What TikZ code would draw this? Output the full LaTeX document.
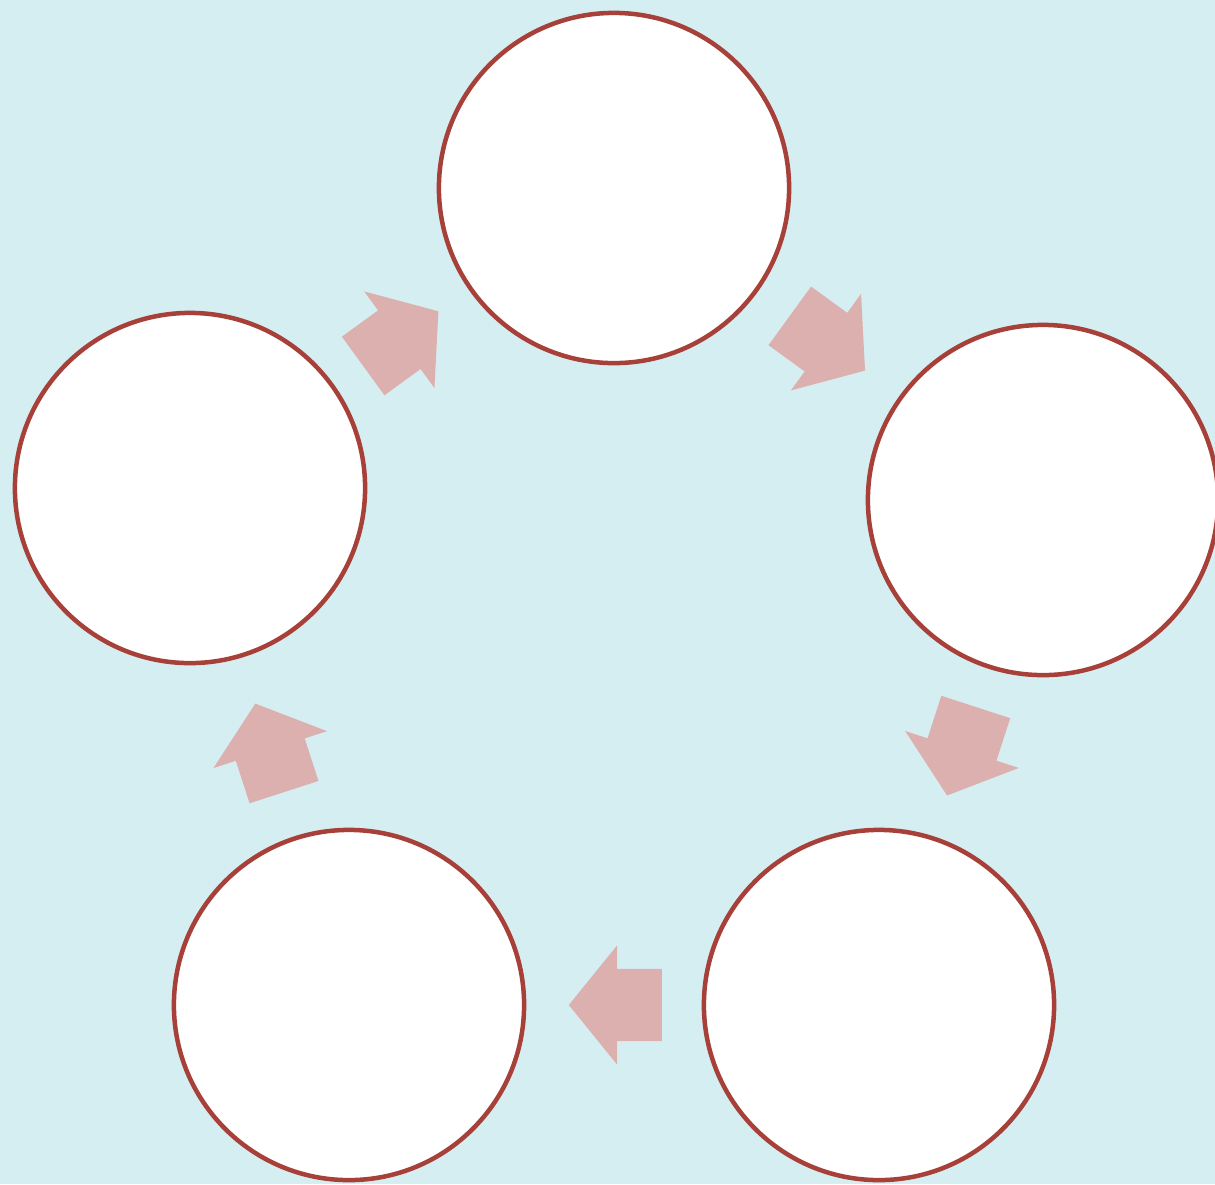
\documentclass[tikz,border=0pt]{standalone}
\usepackage{xcolor}
\usetikzlibrary{shapes.arrows, calc}
\definecolor{waterbg}{HTML}{D5EEF2}
\definecolor{ringred}{HTML}{A8403A}
\definecolor{arrowpink}{HTML}{DDB0B0}

\begin{document}
\begin{tikzpicture}[x=0.01cm, y=-0.01cm,
    stage/.style={circle, draw=ringred, fill=white, line width=0.045cm, minimum size=3.5cm, inner sep=0pt},
    flow/.style={single arrow, fill=arrowpink, draw=none, minimum height=0.93cm,
                 single arrow head extend=0.235cm, single arrow tip angle=102,
                 inner xsep=0pt, inner ysep=0.355cm}]
    \useasboundingbox (0,0) rectangle (1215,1184);
    \clip (0,0) rectangle (1215,1184);
    \fill[waterbg] (0,0) rectangle (1215,1184);

    \node[stage] (s1) at (614,188) {};
    \node[stage] (s2) at (1043,500) {};
    \node[stage] (s3) at (879,1005) {};
    \node[stage] (s4) at (349,1005) {};
    \node[stage] (s5) at (190,488) {};

    % arrows sit halfway between the rings, pulled back a little
    \node[flow, rotate=-36] (a12) at ($(s1)!0.5!(s2)!-0.16cm!(s2)$) {};
    \node[flow, rotate=-108] (a23) at ($(s2)!0.5!(s3)!-0.16cm!(s3)$) {};
    \node[flow, rotate=180] (a34) at ($(s3)!0.5!(s4)!-0.16cm!(s4)$) {};
    \node[flow, rotate=108] (a45) at ($(s4)!0.5!(s5)!-0.16cm!(s5)$) {};
    \node[flow, rotate=36] (a51) at ($(s5)!0.5!(s1)!-0.16cm!(s1)$) {};
  \end{tikzpicture}
\end{document}
